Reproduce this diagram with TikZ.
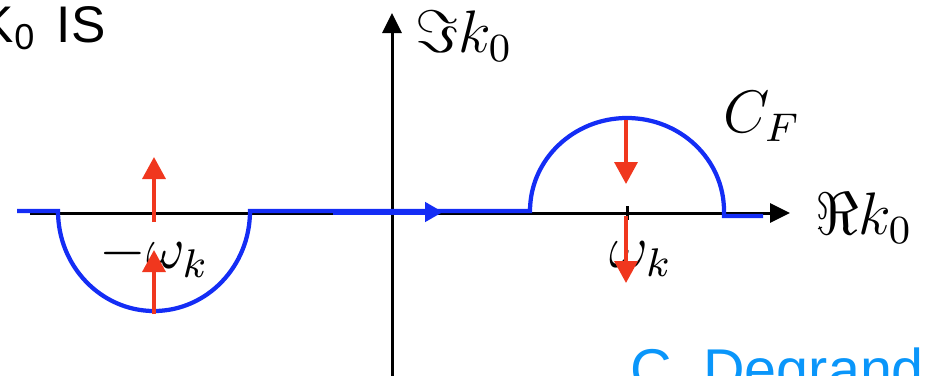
\documentclass[tikz,border=0pt]{standalone}
\usepackage{fontspec}
\setsansfont{Liberation Sans}
\usetikzlibrary{arrows.meta}
\definecolor{cblue}{RGB}{20,45,245}
\definecolor{cred}{RGB}{240,55,30}
\definecolor{sigblue}{RGB}{10,150,250}
\tikzset{
  axis/.style={black, line width=0.6pt},
  axisarrow/.style={axis, -{Triangle[width=3.8pt,length=4pt]}},
  contour/.style={cblue, line width=0.85pt},
  redarrow/.style={cred, line width=0.7pt, -{Triangle[width=4.6pt,length=4.4pt]}},
  lab/.style={font=\fontsize{12}{14}\selectfont, inner sep=0pt},
  sidetext/.style={font=\sffamily\fontsize{10.3}{12}\selectfont, inner sep=0pt},
}
\begin{document}
\begin{tikzpicture}[x=0.2pt,y=-0.2pt]
\useasboundingbox (0,0) rectangle (930,375);
% axes
\coordinate (xs) at (30,213);
\coordinate (xe) at (790,213);
\coordinate (ys) at (392,380);
\coordinate (ye) at (392,13);
\draw[axisarrow] (xs) -- (xe);
\draw[axisarrow] (ys) -- (ye);
% contour
\coordinate (c0) at (17,211);
\coordinate (c1) at (58,211);
\coordinate (c2) at (530,211);
\coordinate (c3) at (724,216);
\coordinate (c4) at (763,216);
\draw[contour] (c0) -- (c1) arc[start angle=180,end angle=0,x radius=96,y radius=100]
  -- (c2) arc[start angle=180,end angle=360,x radius=97,y radius=93] -- (c3) -- (c4);
\coordinate (ba) at (333,212);
\coordinate (bb) at (443,212);
\draw[cblue, line width=1.3pt, -{Triangle[width=3.8pt,length=3.6pt]}] (ba) -- (bb);
% ticks
\coordinate (t1a) at (154,206); \coordinate (t1b) at (154,220);
\coordinate (t2a) at (627,206); \coordinate (t2b) at (627,220);
\draw[axis] (t1a) -- (t1b);
\draw[axis] (t2a) -- (t2b);
% labels
\node[lab, anchor=base] (mw) at (154,268) {$-\omega_k$};
\node[lab, anchor=base] (pw) at (641,267) {$\omega_k$};
\node[lab, anchor=base west] (cf) at (722,132) {$C_F$};
\node[lab, anchor=base west] (re) at (814,234) {$\Re k_0$};
\node[lab, anchor=base west] (im) at (414,52) {$\Im k_0$};
% red arrows
\coordinate (r1a) at (154,222); \coordinate (r1b) at (154,157);
\coordinate (r2a) at (154,314); \coordinate (r2b) at (154,250);
\coordinate (r3a) at (626,120); \coordinate (r3b) at (626,184);
\coordinate (r4a) at (626,216); \coordinate (r4b) at (626,283);
\draw[redarrow] (r1a) -- (r1b);
\draw[redarrow] (r2a) -- (r2b);
\draw[redarrow] (r3a) -- (r3b);
\draw[redarrow] (r4a) -- (r4b);
% side texts
\node[sidetext, anchor=base west] (tl) at (-21,42) {K\textsubscript{0}\hspace{4pt}IS};
\node[sidetext, anchor=base west, text=sigblue, font=\sffamily\fontsize{11.5}{13}\selectfont] (dg) at (629,389) {C. Degrand};
\end{tikzpicture}
\end{document}
